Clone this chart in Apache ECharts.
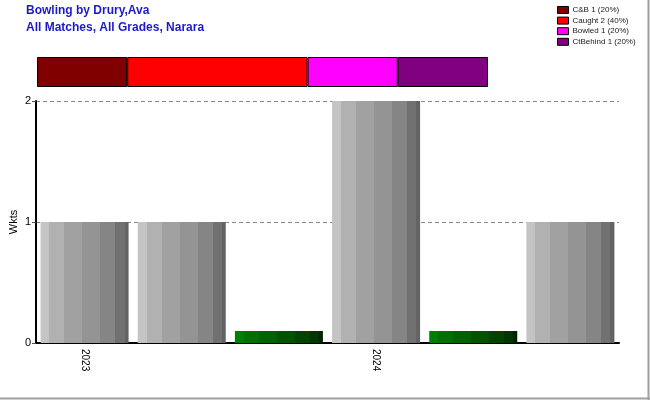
<!DOCTYPE html>
<html><head><meta charset="utf-8">
<script src="https://cdn.jsdelivr.net/npm/echarts@6/dist/echarts.min.js"></script>
<style>html,body{margin:0;padding:0;background:#fff}#c{width:650px;height:400px}</style>
</head><body><div id="c"></div>
<script>
const categories = ['2023', '', '', '2024', '', ''];
const wickets = [1, 1, null, 2, null, 1];
const noWickets = [null, null, 0.1, null, 0.1, null];
const yTicks = [0, 1, 2];
const dismissalNames = ['C&B 1 (20%)', 'Caught 2 (40%)', 'Bowled 1 (20%)', 'CtBehind 1 (20%)'];
const dismissalPct = [20, 40, 20, 20];
const dismissalColors = ['#800000', '#ff0000', '#ff00ff', '#800080'];

function stripes(cols, pos) {
  const stops = [];
  for (let i = 0; i < cols.length; i++) {
    stops.push({offset: pos[i], color: cols[i]});
    stops.push({offset: pos[i + 1], color: cols[i]});
  }
  return new echarts.graphic.LinearGradient(0, 0, 1, 0, stops);
}
const pos = [0, 0.1, 0.27, 0.475, 0.68, 0.85, 0.955, 1];
const grey = stripes(['#c4c4c4', '#b1b1b1', '#a1a1a1', '#949494', '#858585', '#717171', '#636363'], pos);
const green = stripes(['#008000', '#007000', '#006200', '#005400', '#004400', '#003400', '#002400'], pos);

const chart = echarts.init(document.getElementById('c'));
const series = [
  {type: 'bar', xAxisIndex: 0, yAxisIndex: 0, data: wickets, barWidth: 88, barGap: '-100%',
   itemStyle: {color: grey}, silent: true},
  {type: 'bar', xAxisIndex: 0, yAxisIndex: 0, data: noWickets, barWidth: 88, barGap: '-100%',
   itemStyle: {color: green}, silent: true}
];
dismissalNames.forEach((n, i) => {
  series.push({type: 'bar', name: n, xAxisIndex: 1, yAxisIndex: 1, stack: 'd', barWidth: 30,
    data: [dismissalPct[i]], itemStyle: {color: dismissalColors[i], borderColor: '#000', borderWidth: 1}});
});
chart.setOption({
  animation: false,
  title: [
    {text: 'Bowling by Drury,Ava\nAll Matches, All Grades, Narara', left: 26, top: 2, padding: 0,
     textStyle: {fontFamily: 'Liberation Sans', fontSize: 12, fontWeight: 'bold', color: '#1a1acc', lineHeight: 17}}
  ],
  legend: {orient: 'vertical', left: 557, top: 6, padding: 0, itemWidth: 11, itemHeight: 7, itemGap: 2.6,
    icon: 'rect', data: dismissalNames, selectedMode: false,
    itemStyle: {borderColor: '#000', borderWidth: 1},
    textStyle: {fontFamily: 'Liberation Sans', fontSize: 8, color: '#222', padding: [0, 0, 0, -1]}},
  grid: [
    {left: 36, top: 101, width: 583, height: 242, outerBoundsMode: 'none'},
    {left: 37, top: 57, width: 451, height: 30, outerBoundsMode: 'none'}
  ],
  xAxis: [
    {type: 'category', gridIndex: 0, data: categories,
     axisLine: {lineStyle: {color: '#000', width: 2}},
     axisTick: {alignWithLabel: true, interval: 0, length: 4, lineStyle: {color: '#555'}},
     axisLabel: {interval: 0, rotate: -90, color: '#000', fontSize: 10, fontFamily: 'Liberation Sans', margin: 6}},
    {type: 'value', gridIndex: 1, min: 0, max: 100, show: false}
  ],
  yAxis: [
    {type: 'value', gridIndex: 0, min: 0, max: 2, interval: 1, name: 'Wkts', nameLocation: 'middle', nameGap: 17,
     nameMoveOverlap: false,
     nameTextStyle: {fontFamily: 'Liberation Sans', fontSize: 11, color: '#000'},
     axisLine: {show: true, lineStyle: {color: '#000', width: 2}},
     axisTick: {show: true, length: 4, lineStyle: {color: '#555'}},
     axisLabel: {color: '#000', fontSize: 11, fontFamily: 'Liberation Sans', margin: 5},
     splitLine: {show: true, lineStyle: {color: '#888', type: [4, 3], width: 1}}},
    {type: 'category', gridIndex: 1, data: ['d'], show: false}
  ],
  series: series,
  graphic: [
    {type: 'line', shape: {x1: 648.5, y1: 0, x2: 648.5, y2: 400}, style: {stroke: '#a0a0a0', lineWidth: 2}, silent: true},
    {type: 'line', shape: {x1: 0, y1: 398.5, x2: 650, y2: 398.5}, style: {stroke: '#a0a0a0', lineWidth: 2}, silent: true}
  ]
});
</script></body></html>
